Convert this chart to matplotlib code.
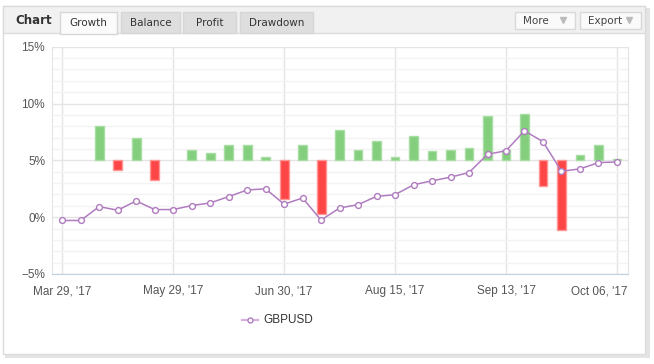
import numpy as np
import matplotlib

matplotlib.use("Agg")
import matplotlib.pyplot as plt  # noqa: E402
from matplotlib.patches import Rectangle  # noqa: E402
from matplotlib.transforms import ScaledTranslation  # noqa: E402

# --- data ------------------------------------------------------------------
growth = [-0.29, -0.29, 0.93, 0.61, 1.43, 0.67, 0.67, 1.02, 1.25, 1.81,
          2.39, 2.50, 1.14, 1.69, -0.26, 0.81, 1.10, 1.83, 1.98, 2.85,
          3.20, 3.52, 3.93, 5.53, 5.85, 7.60, 6.64, 4.04, 4.25, 4.80, 4.86]
# period change bars, drawn from the 5% line (nan = no bar)
bar_change = [np.nan, np.nan, 3.0, -0.81, 2.0, -1.77, np.nan, 0.93, 0.67, 1.37,
              1.37, 0.32, -3.37, 1.37, -4.68, 2.64, 0.87, 1.66, 0.32, 2.12,
              0.78, 0.87, 1.05, 3.86, 0.87, 4.10, -2.23, -6.14, 0.50, 1.35, 0.15]
bar_base = 5.0
tick_pos = [0, 6, 12, 18, 24, 30]
tick_labels = ["Mar 29, '17", "May 29, '17", "Jun 30, '17",
               "Aug 15, '17", "Sep 13, '17", "Oct 06, '17"]
y_ticks = [-5, 0, 5, 10, 15]
y_labels = ["\u22125%", "0%", "5%", "10%", "15%"]
tabs = ["Growth", "Balance", "Profit", "Drawdown"]
series_name = "GBPUSD"

W, H = 654, 364
LINE = "#b07cc0"
GREEN, GREEN_EDGE = "#84cf7e", "#a8dea3"
RED, RED_EDGE = "#ff4646", "#ff9696"
TXT = "#555555"
AXFONT = "Liberation Sans"

fig = plt.figure(figsize=(W / 100, H / 100), dpi=100)
fig.patch.set_facecolor("white")

# background layer in pixel coordinates
bg = fig.add_axes([0, 0, 1, 1])
bg.set_xlim(0, W)
bg.set_ylim(H, 0)
bg.axis("off")

# panel shadow + frame
bg.add_patch(Rectangle((5, 8), 645, 350, facecolor="#e4e4e4", edgecolor="none"))
bg.add_patch(Rectangle((3, 6), 642, 348, facecolor="white", edgecolor="#dcdcdc", lw=1))
# header strip
bg.add_patch(Rectangle((3, 6), 642, 27, facecolor="#f1f1f1", edgecolor="#dcdcdc", lw=1))
bg.text(15, 21, "Chart", fontsize=8.5, fontweight="bold", color="#333333",
        va="center", ha="left", family="DejaVu Sans")

tab_x = [(60, 117), (121, 180), (183, 236), (240, 313)]
for i, (name, (x0, x1)) in enumerate(zip(tabs, tab_x)):
    active = i == 0
    bg.add_patch(Rectangle((x0, 12), x1 - x0, 22 if active else 21,
                           facecolor="#fbfbfb" if active else "#dedede",
                           edgecolor="#d6d6d6", lw=1, zorder=3))
    bg.text((x0 + x1) / 2, 23, name, fontsize=7.5, color="#333333",
            ha="center", va="center", family="DejaVu Sans", zorder=4)

for label, (x0, x1) in [("More", (515, 575)), ("Export", (580, 641))]:
    bg.add_patch(Rectangle((x0, 12), x1 - x0, 17, facecolor="#fafafa",
                           edgecolor="#d8d8d8", lw=1))
    bg.text(x0 + 8, 20.5, label, fontsize=7.5, color="#444444",
            ha="left", va="center", family="DejaVu Sans")
    bg.plot([x1 - 12], [20], marker="v", color="#bbbbbb", markersize=5)

# --- plot area ------------------------------------------------------------
left, right, top, bottom = 52, 627.5, 46.7, 274
ax = fig.add_axes([left / W, (H - bottom) / H, (right - left) / W, (bottom - top) / H])
ax.set_facecolor("white")
x = np.arange(len(growth))

ax.set_xlim(-0.55, len(growth) - 1 + 0.57)
ax.set_ylim(-5, 15)
ax.set_yticks(y_ticks)
ax.set_yticklabels(y_labels, fontfamily=AXFONT, fontsize=8.5, color=TXT)
ax.set_yticks(np.arange(-5, 15, 1), minor=True)
ax.set_xticks(tick_pos)
ax.set_xticklabels(tick_labels, fontfamily=AXFONT, fontsize=8.5, color=TXT)
ax.grid(True, which="major", color="#e4e4e4", lw=1)
ax.grid(True, which="minor", axis="y", color="#f3f3f3", lw=1)
ax.set_axisbelow(True)
ax.tick_params(axis="both", which="both", length=0)
ax.tick_params(axis="x", pad=8)
ax.tick_params(axis="y", pad=5)
for s in ("left", "right"):
    ax.spines[s].set_color("#e4e4e4")
ax.spines["top"].set_visible(False)
ax.spines["bottom"].set_color("#c0d0e0")

# last date label is pulled inside the plot edge, as in the reference
last = ax.get_xticklabels()[-1]
last.set_horizontalalignment("right")
last.set_transform(last.get_transform()
                   + ScaledTranslation(11 / 100, 0, fig.dpi_scale_trans))

bc = np.array(bar_change)
colors = [GREEN if v >= 0 else RED for v in np.nan_to_num(bc)]
edges = [GREEN_EDGE if v >= 0 else RED_EDGE for v in np.nan_to_num(bc)]
ax.bar(x, bc, bottom=bar_base, width=0.48, color=colors, edgecolor=edges,
       lw=1, zorder=2)

ax.plot(x, growth, color=LINE, lw=1.1, marker="o", markersize=4.2,
        markerfacecolor="white", markeredgecolor=LINE, markeredgewidth=1,
        zorder=3)

# legend
bg.plot([242, 258], [320, 320], color="#d4b4dc", lw=1.6, zorder=5)
bg.plot([250], [320], marker="o", markersize=3.6, markerfacecolor="white",
        markeredgecolor=LINE, markeredgewidth=1, zorder=6)
bg.text(263, 320, series_name, fontsize=8.5, color="#333333", ha="left",
        va="center", family=AXFONT)

fig.savefig("out.png", dpi=100)
